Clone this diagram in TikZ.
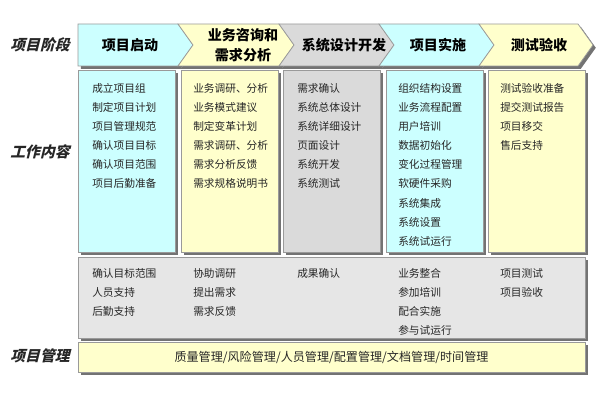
\documentclass[tikz,border=0pt]{standalone}
\usepackage{fontspec}
\setmainfont{Noto Sans CJK SC}
\newfontfamily\cjkslant[FakeSlant=0.25]{Noto Sans CJK SC}
\usetikzlibrary{fit,shadows}
\definecolor{cyanbg}{HTML}{CCFFFF}
\definecolor{yellowbg}{HTML}{FFFFCC}
\definecolor{graybg}{HTML}{DADADA}
\definecolor{lightgraybg}{HTML}{E6E6E6}
\definecolor{edgegray}{HTML}{9A9A9A}

\begin{document}
\begin{tikzpicture}[x=0.025cm,y=-0.025cm]
\tikzstyle{box}=[draw=edgegray, line width=0.5pt, inner sep=0pt, drop shadow={shadow xshift=0.07cm, shadow yshift=-0.07cm, fill=black!55, opacity=1}]
\tikzstyle{stage}=[font=\fontsize{10}{14}\selectfont\bfseries, align=center, inner sep=0pt]
\tikzstyle{items}=[font=\fontsize{7.6}{13.6}\selectfont, text=black!85, align=left, anchor=north west, inner sep=0pt]
\tikzstyle{side}=[font=\fontsize{10.5}{12}\selectfont\cjkslant\bfseries, text=black!85]

\useasboundingbox (0,0) rectangle (600,400);

% stage chevrons
\path[box, fill=cyanbg] (78,24) -- (178,24) -- (193,45) -- (178,66) -- (78,66) -- cycle;
\path[box, fill=yellowbg] (178,24) -- (279,24) -- (294,45) -- (279,66) -- (178,66) -- (193,45) -- cycle;
\path[box, fill=graybg] (279,24) -- (379,24) -- (394,45) -- (379,66) -- (279,66) -- (294,45) -- cycle;
\path[box, fill=cyanbg] (379,24) -- (479,24) -- (494,45) -- (479,66) -- (379,66) -- (394,45) -- cycle;
\path[box, fill=yellowbg] (479,24) -- (578,24) -- (593,45) -- (578,66) -- (479,66) -- (494,45) -- cycle;

\node[stage] (stage1) at (130,45) {项目启动};
\node[stage] (stage2) at (243,45) {业务咨询和\\需求分析};
\node[stage] (stage3) at (344,45) {系统设计开发};
\node[stage] (stage4) at (438,45) {项目实施};
\node[stage] (stage5) at (539,45) {测试验收};

% work columns
\node[box, fill=cyanbg, fit={(78,70) (175,252)}] (work1) {};
\node[box, fill=yellowbg, fit={(181,70) (278,252)}] (work2) {};
\node[box, fill=graybg, fit={(283,70) (380,252)}] (work3) {};
\node[box, fill=cyanbg, fit={(386,70) (483,252)}] (work4) {};
\node[box, fill=yellowbg, fit={(488,70) (585,252)}] (work5) {};

\node[items] (list1) at (92,83) {成立项目组\\制定项目计划\\项目管理规范\\确认项目目标\\确认项目范围\\项目后勤准备};
\node[items] (list2) at (193,83) {业务调研、分析\\业务模式建议\\制定变革计划\\需求调研、分析\\需求分析反馈\\需求规格说明书};
\node[items] (list3) at (297,83) {需求确认\\系统总体设计\\系统详细设计\\页面设计\\系统开发\\系统测试};
\node[items] (list4) at (398,83) {组织结构设置\\业务流程配置\\用户培训\\数据初始化\\变化过程管理\\软硬件采购\\系统集成\\系统设置\\系统试运行};
\node[items] (list5) at (500,83) {测试验收准备\\提交测试报告\\项目移交\\售后支持};

% support row
\node[box, fill=lightgraybg, fit={(78,257) (585,338)}] (support) {};
\node[items] (help1) at (92,268) {确认目标范围\\人员支持\\后勤支持};
\node[items] (help2) at (193,268) {协助调研\\提出需求\\需求反馈};
\node[items] (help3) at (297,268) {成果确认};
\node[items] (help4) at (398,268) {业务整合\\参加培训\\配合实施\\参与试运行};
\node[items] (help5) at (500,268) {项目测试\\项目验收};

% management row
\node[box, fill=yellowbg, fit={(78,342) (585,372)}] (mgmt) {};
\node[font=\fontsize{8.6}{10}\selectfont, text=black!85, inner sep=0pt] (mgmttext) at (mgmt.center) {质量管理/风险管理/人员管理/配置管理/文档管理/时间管理};

% side labels
\node[side] (phase) at (40,45) {项目阶段};
\node[side] (content) at (40,152) {工作内容};
\node[side] (manage) at (40,356) {项目管理};
\end{tikzpicture}
\end{document}
